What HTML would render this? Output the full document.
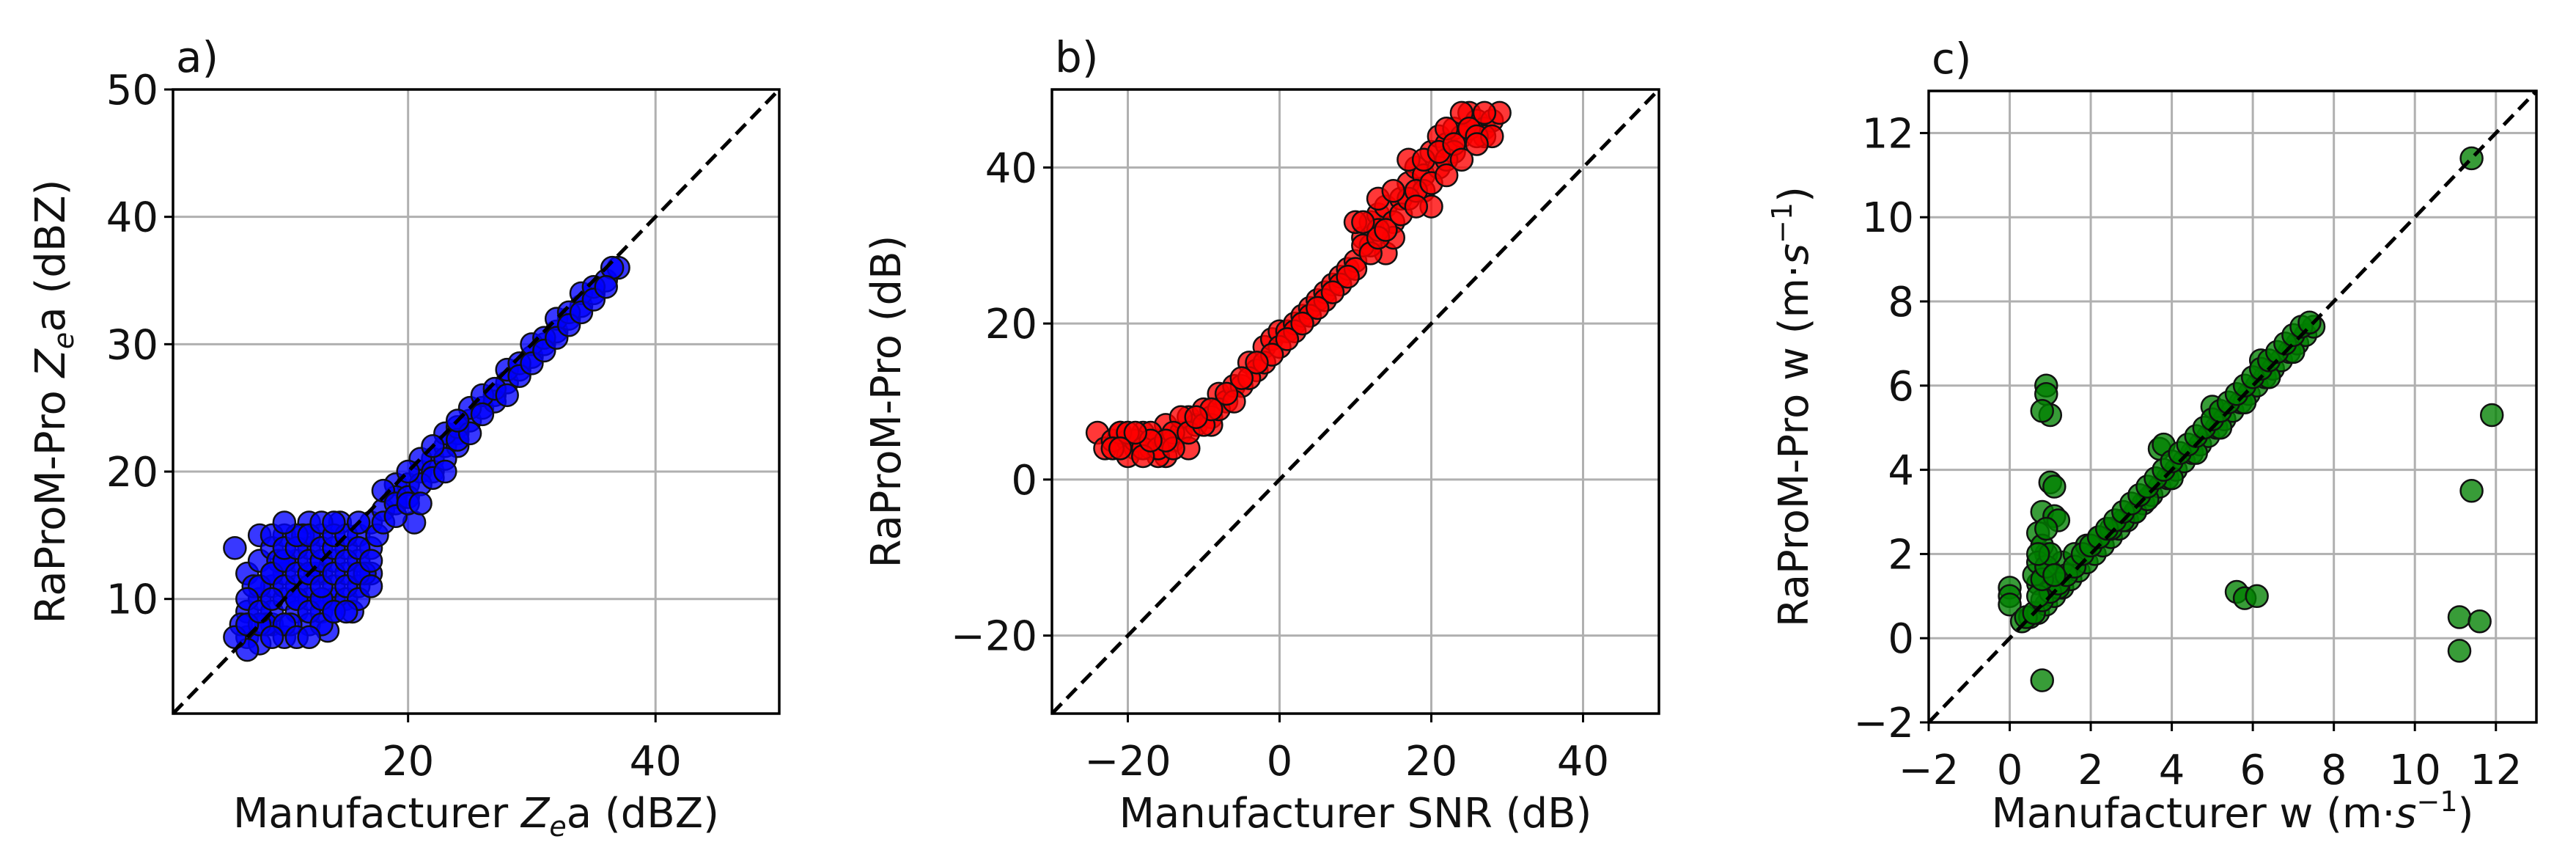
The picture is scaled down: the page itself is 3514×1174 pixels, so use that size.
<!DOCTYPE html>
<html><head><meta charset="utf-8"><style>
html,body{margin:0;padding:0;background:#fff;}
svg{display:block;font-family:"DejaVu Sans","Liberation Sans",sans-serif;}
</style></head><body>
<svg id="fig" width="3514" height="1174" viewBox="0 0 3514 1174" xmlns="http://www.w3.org/2000/svg"></svg>
<script>
// Panel a data
const aX = [6,7,7,7,8,8,8,9,9,9,9,10,10,10,10,11,11,11,12,12,12,12,13,13,13,14,14,14,15,15,15,16,16,16,17,17,8,7,20.5,6.5,7.5,8.5,9.5,10.5,11.5,12.5,13.5,14.5,15.5,16.5,11,13,10,9,14,
  17,18,19,20,21,22,23,24,24,25,26,27,27,28,29,30,31,32,33,34,35,36,37,36.5,19,21,23,25,22,28,30,32,34,26,18,19,17.5,29,31,33,35,20,24,
  8,8,9,9,10,10,10,10,11,11,11,11,11,12,12,12,12,12,13,13,13,13,13,13,14,14,14,14,15,15,15,16,16,16,17,17,6,7,7,8,9,15,16,14,12,9,10,
  18,19,20,21,22,23,24,25,26,27,28,29,30,31,32,33,34,35,36,20,22,24,21,23];
const aY = [14,9,12,7,10,13,15,8,11,14,9,7,10,12,15,9,13,11,8,10,14,16,9,12,15,10,13,11,12,14,10,11,13,15,12,14,6.5,6,16,8,11,8,13,8,15,12,7.5,16,9,12,10,10,13,12,9,
  16,17,19,19,20,21,22,23,22,24,25,26,25.5,27,28,29,30,31,32,33,34,35,36,36,18,21,23,25,20,28,30,32,34,26,18.5,17.5,15,28.5,30.5,32.5,34.5,18,23.5,
  8,11,12,15,8,11,13,14,7,10,12,14,15,9,11,12,13,15,8,10,11,13,14,16,9,12,14,15,11,13,15,10,12,14,11,13,7,8,10,9,10,9,16,16,7,7,16,
  16,16.5,17.5,19,19.5,21,22.5,23,24.5,26.5,26,27.5,28.5,29.5,30.5,31.5,32.5,33.5,34.5,20,22,24,17.5,20];
// Panel b data
const bX = [-24,-23,-22,-21,-20,-19,-18,-17,-16,-15,-14,-13,-12,-11,-10,-9,-8,-7,-6,-5,-4,-3,-2,-1,0,1,2,3,4,5,6,7,8,9,10,11,12,13,14,14,15,16,17,18,19,20,21,22,23,24,25,26,27,28,29,21,23,17,12,15,10,-13,-17,-20,-15,-12,-9,-19,-21,-16,13,19,22,25,27,11,
  -22,-20,-18,-16,-14,-12,-10,-8,-6,-4,-2,0,2,4,6,8,10,12,13,14,16,17,18,19,20,21,22,23,24,25,26,27,28,20,18,22,24,26,-18,-14,11,13,15,9,7,5,3,1,-1,-3,-5,-7,-9,-11,-15,-17,-19,-21];
const bY = [6,4,5,6,5,4,6,4,5,7,5,6,8,7,9,8,11,10,12,12,15,14,17,18,19,19,20,21,22,23,24,25,26,27,28,31,33,34,35,29,33,36,38,40,39,42,44,43,45,44,47,46,45,46,47,40,42,41,30,31,33,8,6,3,3,4,7,5,6,3,32,37,41,45,44,30,
  4,6,4,4,6,6,7,9,10,13,15,17,19,21,23,25,27,29,31,32,34,36,37,41,38,42,45,43,47,45,44,47,44,35,35,39,41,43,3,4,33,36,37,26,24,22,20,18,16,15,13,11,9,8,5,5,6,4];
// Panel c data
const cX = [0.9,0.9,1,0.8,1,1.1,0.8,1.1,1.2,0.7,0.9,0.8,0,0,0,3.7,3.8,5.6,5.8,6.1,11.4,11.9,11.4,11.1,11.6,11.1,5,6.2,
  0.3,0.5,0.7,0.9,1.1,1.3,1.5,1.7,1.9,2.1,2.3,2.5,2.7,2.9,3.1,3.3,3.5,3.7,3.9,4.1,4.3,4.5,4.7,4.9,5.1,5.3,5.5,5.7,5.9,6.1,6.3,6.5,6.7,6.9,7.1,7.3,7.5,
  0.7,1,1.3,1.6,1.9,2.2,2.5,2.8,3.1,3.4,4,4.6,5.2,5.8,6.4,7,0.6,0.8,1.2,0.7,
  0.4,0.6,0.8,1.0,1.2,1.4,1.6,1.8,2.0,2.2,2.4,2.6,2.8,3.0,3.2,3.4,3.6,3.8,4.0,4.2,4.4,4.6,4.8,5.0,5.2,5.4,5.6,5.8,6.0,6.2,6.4,6.6,6.8,7.0,7.2,7.4,
  0.7,0.8,0.9,1.0,1.1,0.7,0.9];
const cY = [6,5.8,5.3,5.4,3.7,3.6,3,2.9,2.8,2.5,2,-1,1.2,1,0.8,4.5,4.6,1.1,0.95,1,11.4,5.3,3.5,0.5,0.4,-0.3,5.5,6.6,
  0.4,0.5,0.6,0.8,1.0,1.2,1.4,1.6,1.8,2.0,2.2,2.4,2.6,2.8,3.0,3.2,3.4,3.6,3.8,4.0,4.2,4.4,4.6,4.8,5.0,5.2,5.4,5.6,5.8,6.0,6.2,6.4,6.6,6.8,7.0,7.2,7.4,
  1.3,1.6,1.8,2,2.2,2.4,2.6,2.8,3,3.3,3.8,4.4,5,5.6,6.2,6.8,1.5,2.2,1.2,1.8,
  0.5,0.6,0.9,1.1,1.3,1.5,1.7,2.0,2.2,2.4,2.6,2.8,3.0,3.2,3.4,3.6,3.8,4.0,4.2,4.4,4.6,4.8,5.0,5.2,5.4,5.6,5.8,6.0,6.2,6.4,6.6,6.8,7.0,7.2,7.4,7.5,
  1.0,1.4,1.7,2.0,1.5,2.0,2.6];
// tick labels
const aXTicks = [20,40], aYTicks = [10,20,30,40,50];
const bXTicks = [-20,0,20,40], bYTicks = [-20,0,20,40];
const cTicks = [-2,0,2,4,6,8,10,12];

const NS = "http://www.w3.org/2000/svg";
const svg = document.getElementById('fig');
function mk(tag, attrs, parent){
  const e = document.createElementNS(NS, tag);
  for (const k in attrs) e.setAttribute(k, attrs[k]);
  (parent||svg).appendChild(e); return e;
}
function fmt(v){ return v<0 ? '\u2212'+Math.abs(v) : String(v); }

function panel(p){
  const g = mk('g', {});
  
  
  const sx = v => p.L + (v - p.x0)/(p.x1 - p.x0)*(p.R - p.L);
  const sy = v => p.B - (v - p.y0)/(p.y1 - p.y0)*(p.B - p.T);
  p.xt.forEach(t => {
    const l = mk('line', {x1:sx(t), x2:sx(t), y1:p.T, y2:p.B, stroke:'#b0b0b0', 'stroke-width':3}, g);
    
    
  });
  p.yt.forEach(t => {
    const l = mk('line', {x1:p.L, x2:p.R, y1:sy(t), y2:sy(t), stroke:'#b0b0b0', 'stroke-width':3}, g);
    
    
  });
  const pg = mk('g', {}, g);
  
  
  const n = Math.min(p.X.length, p.Y.length);
  for (let i = 0; i < n; i++) {
    const c = mk('circle', {cx:sx(p.X[i]), cy:sy(p.Y[i]), r:15, fill:p.color, 'fill-opacity':0.78, stroke:'#111', 'stroke-width':2.5}, pg);
    
    
  }
  const lo = Math.max(p.x0, p.y0), hi = Math.min(p.x1, p.y1);
  const d = mk('line', {x1:sx(lo), y1:sy(lo), x2:sx(hi), y2:sy(hi), stroke:'#000', 'stroke-width':5, 'stroke-dasharray':'19,10'}, g);
  
  
  const f = mk('rect', {x:p.L, y:p.T, width:p.R-p.L, height:p.B-p.T, fill:'none', stroke:'#000', 'stroke-width':3.5}, g);
  
  
  p.xt.forEach(t => {
    mk('line', {x1:sx(t), x2:sx(t), y1:p.B, y2:p.B+12, stroke:'#000', 'stroke-width':3}, g);
    const tx = mk('text', {x:sx(t), y:p.B+84, 'font-size':56, 'text-anchor':'middle', fill:'#111'}, g);
    tx.textContent = fmt(t);
    
    
  });
  p.yt.forEach(t => {
    mk('line', {x1:p.L-12, x2:p.L, y1:sy(t), y2:sy(t), stroke:'#000', 'stroke-width':3}, g);
    const tx = mk('text', {x:p.L-20, y:sy(t)+20, 'font-size':56, 'text-anchor':'end', fill:'#111'}, g);
    tx.textContent = fmt(t);
    
    
  });
  const lt = mk('text', {x:p.L+4, y:p.T-24, 'font-size':58, fill:'#111'}, g);
  lt.textContent = p.letter;
  
  
  const xl = mk('text', {x:(p.L+p.R)/2, y:1128, 'font-size':56, 'text-anchor':'middle', fill:'#111'}, g);
  xl.innerHTML = p.xlab;
  
  
  const yl = mk('text', {x:0, y:0, 'font-size':56, 'text-anchor':'middle', fill:'#111', transform:`translate(${p.ylx},${(p.T+p.B)/2}) rotate(-90)`}, g);
  yl.innerHTML = p.ylab;
  
  
}

const sub = '<tspan font-style="italic">Z</tspan><tspan font-style="italic" font-size="38" dy="12">e</tspan><tspan dy="-12">a</tspan>';
const unit = '(m·<tspan font-style="italic">s</tspan><tspan font-size="38" dy="-22">\u22121</tspan><tspan dy="22">)</tspan>';
panel({name:'panel-a', letter:'a)', L:236, R:1063, T:122, B:973, x0:1, x1:50, y0:1, y1:50, xt:aXTicks, yt:aYTicks, X:aX, Y:aY, color:'#0000ff',
  xlab:'Manufacturer '+sub+' (dBZ)', ylab:'RaProM-Pro '+sub+' (dBZ)', ylx:88});
panel({name:'panel-b', letter:'b)', L:1435, R:2263, T:122, B:973, x0:-30, x1:50, y0:-30, y1:50, xt:bXTicks, yt:bYTicks, X:bX, Y:bY, color:'#ff0000',
  xlab:'Manufacturer SNR (dB)', ylab:'RaProM-Pro (dB)', ylx:1228});
panel({name:'panel-c', letter:'c)', L:2631, R:3460, T:124, B:985, x0:-2, x1:13, y0:-2, y1:13, xt:cTicks, yt:cTicks, X:cX, Y:cY, color:'#008000',
  xlab:'Manufacturer w '+unit, ylab:'RaProM-Pro w '+unit, ylx:2466});
</script>
</body></html>
